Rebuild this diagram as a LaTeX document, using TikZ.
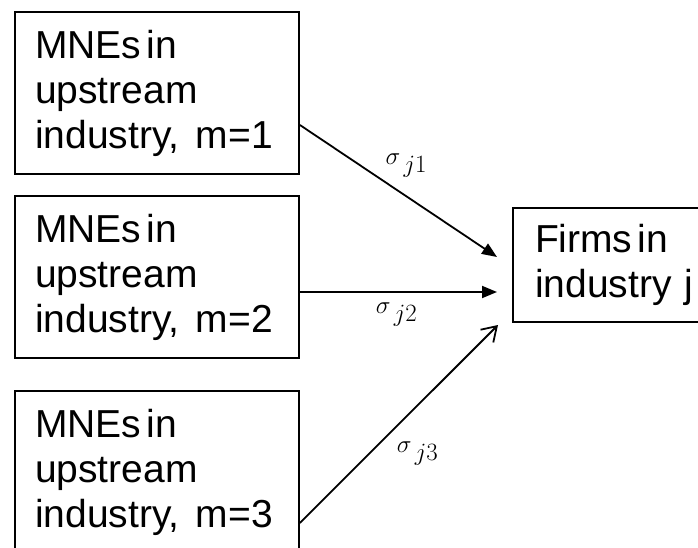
\documentclass[tikz,border=0pt]{standalone}
\usepackage{amsmath}
\usepackage{fontspec}
\setmainfont{Liberation Sans}
\usetikzlibrary{arrows}
\usetikzlibrary{arrows.meta}

\newcommand{\gap}{\hspace{0.14em}}
\newcommand{\widegap}{\hspace{0.42em}}

\begin{document}
\begin{tikzpicture}[x=1pt,y=-1pt]
	\tikzstyle{every node}=[font=\fontsize{39}{45}\selectfont]
	\tikzstyle{mnebox}=[draw,line width=1.8pt,rectangle,minimum width=284pt,minimum height=162pt,text width=244pt,inner xsep=20pt,align=left]
	\tikzstyle{firmbox}=[draw,line width=1.8pt,rectangle,minimum height=114pt,text width=180pt,inner xsep=22pt,align=left]
	\tikzstyle{link}=[line width=1.8pt]
	\tikzstyle{coef}=[font=\fontsize{34}{36}\selectfont,inner sep=2pt]
	\useasboundingbox (0,0) rectangle (698,548);

	\node[mnebox] (m1) at (157,93) {MNEs\gap in\\upstream\\industry,\widegap m=1};
	\node[mnebox] (m2) at (157,277) {MNEs\gap in\\upstream\\industry,\widegap m=2};
	\node[mnebox] (m3) at (157,472) {MNEs\gap in\\upstream\\industry,\widegap m=3};
	\node[firmbox] (firms) at (625,265) {Firms\gap in\\industry j};

	\coordinate (t1) at (497,257);
	\coordinate (t2) at (497,292);
	\coordinate (t3) at (498,325);

	\draw[link,-{Triangle[length=15pt,width=12pt]}] ([yshift=-32pt]m1.east) -- (t1) node[coef,pos=.42,above right] (s1) {$\sigma_{\,j1}$};
	\draw[link,-{Triangle[length=15pt,width=12pt]}] ([yshift=-15pt]m2.east) -- (t2) node[coef,pos=.49,below=8pt] (s2) {$\sigma_{\,j2}$};
	\draw[link,-{Straight Barb[length=14pt,width=18pt]}] ([yshift=-51pt]m3.east) -- (t3) node[coef,pos=.45,below right=5pt] (s3) {$\sigma_{\,j3}$};
\end{tikzpicture}
\end{document}
